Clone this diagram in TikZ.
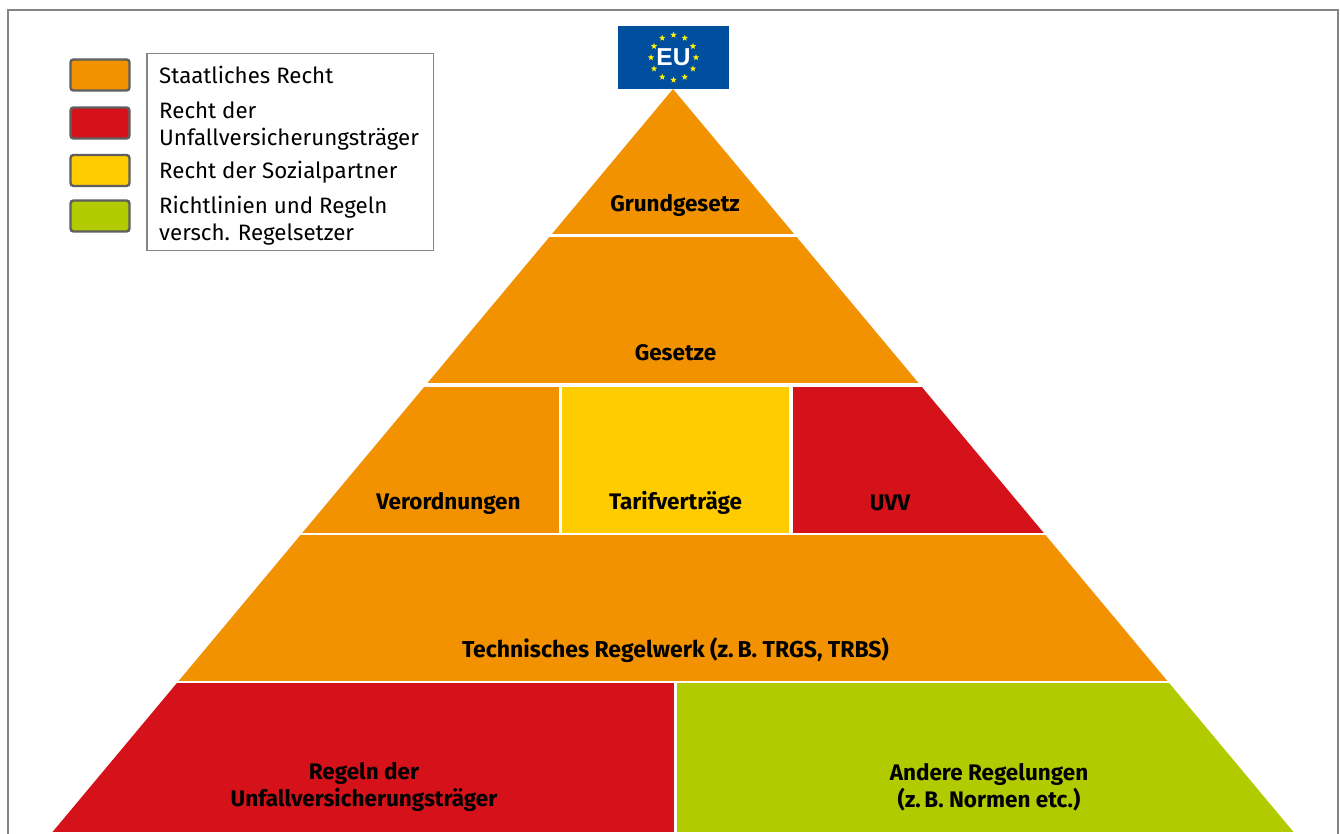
\documentclass[tikz,border=0pt]{standalone}
\usepackage{fontspec}
\setmainfont{Fira Sans}
\newfontfamily\eufont{Liberation Sans}
\usetikzlibrary{shapes.geometric}
\definecolor{orangeB}{HTML}{F39200}
\definecolor{redB}{HTML}{D5121A}
\definecolor{yellowB}{HTML}{FFCC00}
\definecolor{greenB}{HTML}{B1CB00}
\definecolor{euB}{HTML}{004F9F}
\definecolor{frameB}{HTML}{858585}
\definecolor{swatchB}{HTML}{5F5F5F}
\tikzset{
  pyrlabel/.style={font=\fontsize{22.5}{27.5}\selectfont\bfseries,text=black,align=center,inner sep=0pt},
  leglabel/.style={font=\fontsize{22.3}{27}\selectfont,text=black,align=left,anchor=west,inner sep=0pt},
  swatch/.style={draw=swatchB,line width=2.4pt,rounded corners=3pt,minimum width=0pt},
  eustar/.style={star,star points=5,star point ratio=2.3,fill=yellow,inner sep=0pt,minimum size=6.5pt,draw=none},
}
\begin{document}
\begin{tikzpicture}[x=1pt,y=-1pt]
\useasboundingbox (0,0) rectangle (1340,834);
\fill[white] (0,0) rectangle (1340,834);
% frame
\draw[frameB,line width=2pt] (8,834) -- (8,10.5) -- (1338,10.5) -- (1338,834);
% pyramid
\begin{scope}
\clip (673,89) -- (1293.5,832) -- (52.5,832) -- cycle;
\fill[orangeB] (0,89) rectangle (1340,234);
\fill[orangeB] (0,237) rectangle (1340,383);
\fill[orangeB] (0,387) rectangle (558.5,533);
\fill[yellowB] (562,387) rectangle (789,533);
\fill[redB] (792.7,387) rectangle (1340,533);
\fill[orangeB] (0,535) rectangle (1340,681);
\fill[redB] (0,683) rectangle (673.5,832);
\fill[greenB] (677.3,683) rectangle (1340,832);
\end{scope}
\node[pyrlabel] (grund) at (675,205) {Grundgesetz};
\node[pyrlabel] (ges) at (675.5,353) {Gesetze};
\node[pyrlabel] (vo) at (448.5,503) {Verordnungen};
\node[pyrlabel] (tv) at (675.5,503) {Tarifverträge};
\node[pyrlabel] (uvv) at (890,503) {UVV};
\node[pyrlabel,font=\fontsize{23}{27.5}\selectfont\bfseries] (tech) at (675.5,650.5) {Technisches Regelwerk (z.\,B. TRGS, TRBS)};
\node[pyrlabel] (regeln) at (364,787) {Regeln der\\Unfallversicherungsträger};
\node[pyrlabel] (andere) at (989,787) {Andere Regelungen\\(z.\,B. Normen etc.)};
% EU flag
\fill[euB] (618,26) rectangle (729,89);
\node[font=\fontsize{24.5}{25}\selectfont\bfseries\eufont,text=white,inner sep=0pt] (eu) at (673.5,57.5) {EU};
\foreach \a in {0,30,...,330}
  \node[eustar] at ({673.5+22.5*cos(\a)},{57.5+22.5*sin(\a)}) {};
% legend
\draw[frameB,line width=1.4pt,fill=white] (147,53.5) rectangle (433.5,250.5);
\draw[swatch,fill=orangeB] (70.5,59.5) rectangle (129.5,90.5);
\draw[swatch,fill=redB] (70.5,107.5) rectangle (129.5,138.5);
\draw[swatch,fill=yellowB] (70.5,155) rectangle (129.5,186);
\draw[swatch,fill=greenB] (70.5,200.5) rectangle (129.5,231.5);
\node[leglabel] (l1) at (159,75) {Staatliches Recht};
\node[leglabel] (l2) at (159,126) {Recht der\\Unfallversicherungsträger};
\node[leglabel] (l3) at (159,172) {Recht der Sozialpartner};
\node[leglabel] (l4) at (159,221) {Richtlinien und Regeln\\versch. Regelsetzer};
\end{tikzpicture}
\end{document}
